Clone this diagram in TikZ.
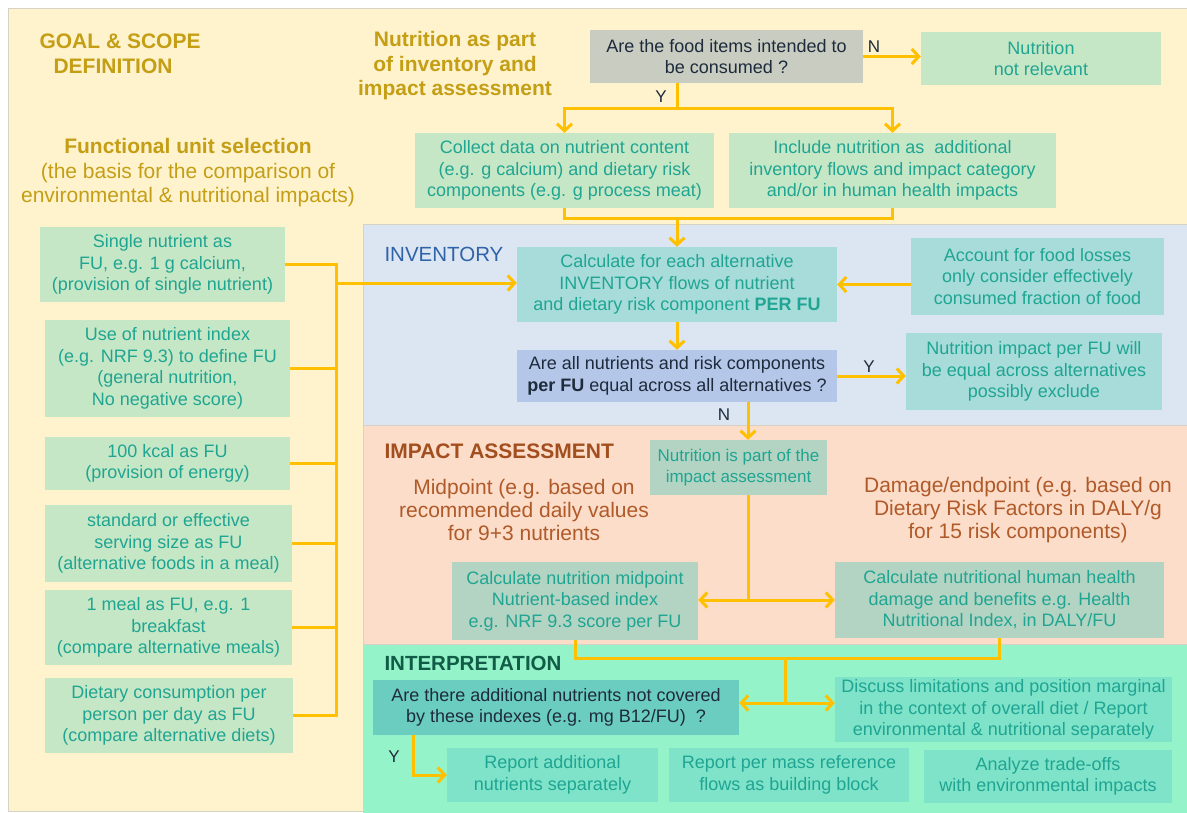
\documentclass[tikz,border=0pt]{standalone}
\usepackage{fontspec}
\setmainfont{Liberation Sans}
\usetikzlibrary{calc}
\usetikzlibrary{arrows.meta}

\definecolor{panelyellow}{HTML}{FFF3CE}
\definecolor{panelblue}{HTML}{DCE5F2}
\definecolor{panelsalmon}{HTML}{FBDDC9}
\definecolor{panelmint}{HTML}{94F3C8}
\definecolor{panelline}{HTML}{D6D2C4}
\definecolor{flowgold}{HTML}{FFC000}
\definecolor{titlegold}{HTML}{C49E14}
\definecolor{tealtxt}{HTML}{1FA592}
\definecolor{darktxt}{HTML}{1E2B3C}
\definecolor{boxgreen}{HTML}{C6E7C6}
\definecolor{qgray}{HTML}{C8CCC1}
\definecolor{boxteal}{HTML}{A7DCDA}
\definecolor{qblue}{HTML}{B4C7E8}
\definecolor{boxsage}{HTML}{B3D4C3}
\definecolor{qteal}{HTML}{6BCDBF}
\definecolor{boxmint}{HTML}{7EE3C9}
\definecolor{invblue}{HTML}{2F63A8}
\definecolor{impbrown}{HTML}{A34E1E}
\definecolor{midbrown}{HTML}{B05A2A}
\definecolor{intgreen}{HTML}{105C46}

\tikzset{
  wh/.style 2 args={minimum width=#1pt,minimum height=#2pt},
  box/.style={align=center,inner sep=0pt,font=\fontsize{18}{21.5}\selectfont,text=tealtxt},
  gbox/.style={box,fill=boxgreen},
  tbox/.style={box,fill=boxteal},
  sbox/.style={box,fill=boxsage},
  mbox/.style={box,fill=boxmint},
  qbox/.style={box,text=darktxt},
  title/.style={align=center,font=\fontsize{21}{24.5}\selectfont\bfseries,text=titlegold},
  midtxt/.style={align=center,font=\fontsize{21}{23}\selectfont,text=midbrown},
  lbl/.style={font=\fontsize{17}{20}\selectfont,text=darktxt},
  flow/.style={draw=flowgold,line width=3pt},
}

\begin{document}
\begin{tikzpicture}[x=1pt,y=-1pt,>={Straight Barb[length=7pt,width=15pt]}]
\useasboundingbox (0,0) rectangle (1187,812);
\fill[white] (0,0) rectangle (1187,812);
\filldraw[fill=panelyellow,draw=panelline] (8,8) rectangle (1195,811);
\filldraw[fill=panelblue,draw=panelline] (363,224) rectangle (1195,425);
\filldraw[fill=panelsalmon,draw=panelline] (363,425) rectangle (1195,644);
\filldraw[fill=panelmint,draw=panelline] (363,644) rectangle (1195,820);

\node[title,anchor=west,align=left] (goal) at (36,54) {GOAL \& SCOPE\\\hspace*{14pt}DEFINITION};
\node[title] (nutri) at (455,66) {Nutrition as part\\of inventory and\\impact assessment};
\node[align=center,font=\fontsize{21}{24.5}\selectfont,text=titlegold] (fut) at (188,173)
  {\textbf{Functional unit selection}\\(the basis for the comparison of\\environmental \& nutritional impacts)};
\node[anchor=west,font=\fontsize{20.5}{24}\selectfont,text=invblue] (inv) at (381,254) {INVENTORY};
\node[anchor=west,font=\fontsize{21}{24}\selectfont\bfseries,text=impbrown] (imp) at (381,451) {IMPACT ASSESSMENT};
\node[anchor=west,font=\fontsize{20.5}{24}\selectfont\bfseries,text=intgreen] (int) at (381,663) {INTERPRETATION};

\node[qbox,fill=qgray,wh={273}{53}] (q1) at (726.5,56.5) {Are the food items intended to\\be consumed ?};
\node[gbox,wh={240}{53}] (nrel) at (1041,58.5) {Nutrition\\not relevant};
\node[gbox,wh={299}{75}] (collect) at (564.5,170.5) {Collect data on nutrient content\\(e.g. g calcium) and dietary risk\\components (e.g. g process meat)};
\node[gbox,wh={327}{75}] (include) at (892.5,170.5) {Include nutrition as\ \ additional\\inventory flows and impact category\\and/or in human health impacts};

\node[gbox,wh={245}{75}] (fu1) at (162.5,264.5) {Single nutrient as\\FU, e.g. 1 g calcium,\\(provision of single nutrient)};
\node[gbox,wh={245}{97}] (fu2) at (167.5,368.5) {Use of nutrient index\\(e.g. NRF 9.3) to define FU\\(general nutrition,\\No negative score)};
\node[gbox,wh={245}{53}] (fu3) at (167.5,463.5) {100 kcal as FU\\(provision of energy)};
\node[gbox,wh={247}{77}] (fu4) at (168.5,543.5) {standard or effective\\serving size as FU\\(alternative foods in a meal)};
\node[gbox,wh={247}{75}] (fu5) at (168.5,627.5) {1 meal as FU, e.g. 1\\breakfast\\(compare alternative meals)};
\node[gbox,wh={248}{75}] (fu6) at (169,715.5) {Dietary consumption per\\person per day as FU\\(compare alternative diets)};

\node[tbox,wh={320}{75}] (calc) at (677,284.5) {Calculate for each alternative\\INVENTORY flows of nutrient\\and dietary risk component \textbf{PER FU}};
\node[tbox,wh={253}{77}] (loss) at (1037.5,276.5) {Account for food losses\\only consider effectively\\consumed fraction of food};
\node[qbox,fill=qblue,wh={320}{52}] (q2) at (677,376) {Are all nutrients and risk components\\\textbf{per FU} equal across all alternatives ?};
\node[tbox,wh={256}{77}] (equal) at (1034,371.5) {Nutrition impact per FU will\\be equal across alternatives\\possibly exclude};

\node[sbox,wh={177}{55},font=\fontsize{17}{21}\selectfont] (part) at (738.5,467.5) {Nutrition is part of the\\impact assessment};
\node[midtxt] (midt) at (524,510) {Midpoint (e.g. based on\\recommended daily values\\for 9+3 nutrients};
\node[midtxt] (damt) at (1018,510) {Damage/endpoint (e.g. based on\\Dietary Risk Factors in DALY/g\\for 15 risk components)};
\node[sbox,wh={246}{78}] (mid) at (575,601) {Calculate nutrition midpoint\\Nutrient-based index\\e.g. NRF 9.3 score per FU};
\node[sbox,wh={329}{76}] (dam) at (999.5,600) {Calculate nutritional human health\\damage and benefits e.g. Health\\Nutritional Index, in DALY/FU};

\node[qbox,fill=qteal,wh={366}{55}] (q3) at (556,707.5) {Are there additional nutrients not covered\\by these indexes (e.g. mg B12/FU)\ \ ?};
\node[mbox,wh={337}{65}] (disc) at (1003.5,709.5) {Discuss limitations and position marginal\\in the context of overall diet / Report\\environmental \& nutritional separately};
\node[mbox,wh={211}{54}] (rep1) at (552.5,775) {Report additional\\nutrients separately};
\node[mbox,wh={240}{54}] (rep2) at (789,775) {Report per mass reference\\flows as building block};
\node[mbox,wh={248}{53}] (rep3) at (1048,776.5) {Analyze trade-offs\\with environmental impacts};

\node[lbl] (n1) at (874,47) {N};
\node[lbl] (y1) at (661,97) {Y};
\node[lbl] (y2) at (869,367) {Y};
\node[lbl] (n2) at (724,415) {N};
\node[lbl] (y3) at (394,757) {Y};

\coordinate (A) at (677,108);
\coordinate (C) at (677,218);
\coordinate (B) at (336,283);
\coordinate (D) at (748,402);
\coordinate (E) at (748,600);
\coordinate (F) at (785,658);
\coordinate (G) at (785,703);
\coordinate (H) at (413,775);

\draw[flow,->] (q1.east) -- (q1.east -| nrel.west);
\draw[flow] (q1.south -| A) -- (A);
\draw[flow,->] (A) -| (collect.north);
\draw[flow,->] (A) -| (include.north);
\draw[flow] (collect.south) |- (C) -| (include.south);
\draw[flow,->] (C) -- (calc.north);

\draw[flow] (fu1.east) -- (fu1.east -| B) -- (fu6.east -| B) -- (fu6.east);
\foreach \i in {2,...,5} \draw[flow] (fu\i.east) -- (fu\i.east -| B);
\draw[flow,->] (B) -- (B -| calc.west);

\draw[flow,->] (loss.west |- calc.east) -- (calc.east);
\draw[flow,->] (calc.south) -- (q2.north);
\draw[flow,->] (q2.east) -- (q2.east -| equal.west);
\draw[flow,->] (D) -- (D |- part.north);
\draw[flow] (D |- part.south) -- (E);
\draw[flow,->] (E) -- (E -| mid.east);
\draw[flow,->] (E) -- (E -| dam.west);

\draw[flow] (mid.south) |- (F) -| (dam.south);
\draw[flow] (F) -- (G);
\draw[flow,->] (G) -- (G -| q3.east);
\draw[flow,->] (G) -- (G -| disc.west);
\draw[flow,->] (q3.south -| H) -- (H) -- (rep1.west);
\end{tikzpicture}
\end{document}
